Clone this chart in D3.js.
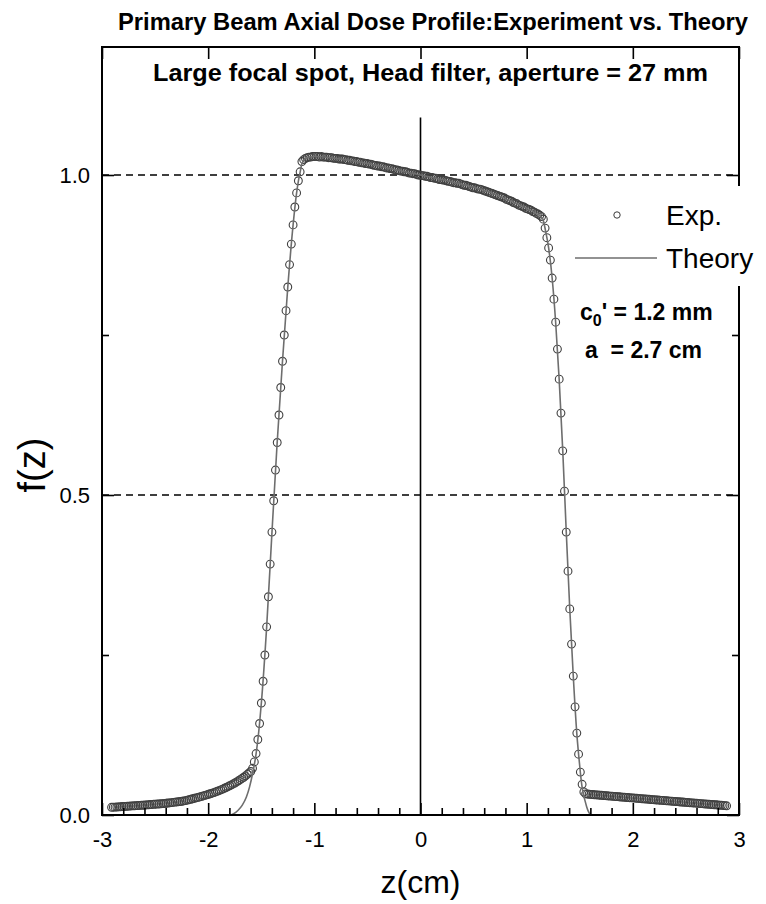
<!DOCTYPE html>
<html>
<head>
<meta charset="utf-8">
<script src="https://cdn.jsdelivr.net/npm/d3@7"></script>
<style>
  body { margin: 0; background: #fff; }
  text { font-family: "Liberation Sans", Arial, Helvetica, sans-serif; }
</style>
</head>
<body>
<svg id="chart" width="766" height="904"></svg>
<script>
// Measured axial dose profile, sampled on a uniform z grid (cm)
const zStart = -2.91;
const zStep = 0.0166;
const expF = [
  0.0120, 0.0122, 0.0123, 0.0125, 0.0127, 0.0129, 0.0132, 0.0133, 0.0135, 0.0137,
  0.0139, 0.0141, 0.0142, 0.0144, 0.0146, 0.0148, 0.0150, 0.0152, 0.0153, 0.0156,
  0.0158, 0.0160, 0.0163, 0.0165, 0.0167, 0.0169, 0.0171, 0.0173, 0.0175, 0.0178,
  0.0180, 0.0183, 0.0187, 0.0190, 0.0194, 0.0197, 0.0201, 0.0204, 0.0208, 0.0211,
  0.0215, 0.0220, 0.0225, 0.0232, 0.0239, 0.0246, 0.0254, 0.0261, 0.0268, 0.0275,
  0.0282, 0.0290, 0.0298, 0.0307, 0.0315, 0.0324, 0.0332, 0.0341, 0.0350, 0.0360,
  0.0370, 0.0381, 0.0393, 0.0405, 0.0417, 0.0430, 0.0443, 0.0457, 0.0471, 0.0485,
  0.0500, 0.0517, 0.0534, 0.0552, 0.0571, 0.0590, 0.0612, 0.0635, 0.0657, 0.0680,
  0.073, 0.083, 0.096, 0.118, 0.143, 0.175, 0.209, 0.250, 0.294, 0.341,
  0.392, 0.442, 0.491, 0.539, 0.582, 0.625, 0.668, 0.709, 0.750, 0.788,
  0.825, 0.860, 0.892, 0.922, 0.950, 0.972, 0.991, 1.005, 1.021,
  1.024, 1.026, 1.027, 1.028, 1.028, 1.029, 1.029,
  1.029, 1.029, 1.028, 1.029, 1.028, 1.028,
  1.028, 1.027, 1.027, 1.027, 1.026, 1.026,
  1.026, 1.025, 1.025, 1.025, 1.024, 1.024,
  1.023, 1.023, 1.022, 1.022, 1.021, 1.021,
  1.020, 1.020, 1.019, 1.019, 1.018, 1.018,
  1.017, 1.017, 1.016, 1.015, 1.015, 1.014,
  1.014, 1.013, 1.013, 1.012, 1.011, 1.011,
  1.010, 1.010, 1.009, 1.008, 1.008, 1.007,
  1.006, 1.006, 1.005, 1.005, 1.004, 1.003,
  1.003, 1.002, 1.002, 1.001, 1.000, 1.000,
  0.999, 0.999, 0.998, 0.998, 0.997, 0.996,
  0.996, 0.995, 0.995, 0.994, 0.993, 0.993,
  0.992, 0.992, 0.991, 0.990, 0.990, 0.989,
  0.988, 0.988, 0.987, 0.987, 0.986, 0.985,
  0.984, 0.984, 0.983, 0.982, 0.981, 0.980,
  0.980, 0.979, 0.978, 0.978, 0.977, 0.976,
  0.975, 0.974, 0.973, 0.972, 0.971, 0.970,
  0.969, 0.968, 0.967, 0.966, 0.965, 0.964,
  0.962, 0.961, 0.960, 0.959, 0.957, 0.956,
  0.955, 0.953, 0.952, 0.951, 0.950, 0.948,
  0.947, 0.946, 0.945, 0.943, 0.942, 0.940,
  0.939, 0.937, 0.935,
  0.931, 0.917, 0.902, 0.886, 0.867, 0.839, 0.806, 0.770, 0.728, 0.681,
  0.628, 0.569, 0.506, 0.442, 0.381, 0.322, 0.267, 0.217, 0.169, 0.128,
  0.095, 0.067, 0.048, 0.036,
  0.0330, 0.0327, 0.0324, 0.0322, 0.0320, 0.0316, 0.0315, 0.0312, 0.0309, 0.0308,
  0.0305, 0.0302, 0.0301, 0.0298, 0.0295, 0.0294, 0.0291, 0.0288, 0.0287, 0.0284,
  0.0281, 0.0280, 0.0277, 0.0274, 0.0273, 0.0270, 0.0267, 0.0266, 0.0263, 0.0261,
  0.0259, 0.0256, 0.0254, 0.0252, 0.0249, 0.0248, 0.0245, 0.0242, 0.0241, 0.0238,
  0.0235, 0.0234, 0.0231, 0.0229, 0.0227, 0.0224, 0.0222, 0.0220, 0.0217, 0.0216,
  0.0213, 0.0210, 0.0209, 0.0206, 0.0203, 0.0202, 0.0199, 0.0197, 0.0195, 0.0192,
  0.0190, 0.0188, 0.0185, 0.0184, 0.0181, 0.0178, 0.0177, 0.0174, 0.0172, 0.0170,
  0.0167, 0.0165, 0.0163, 0.0160, 0.0159, 0.0156, 0.0153, 0.0152, 0.0149, 0.0147,
  0.0144
];

// Theoretical primary-beam profile
const theoryZ = [-2.90, -1.80, -1.76, -1.72, -1.68, -1.64, -1.61, -1.58, -1.55, -1.516,
  -1.499, -1.449, -1.399, -1.350, -1.300, -1.250, -1.200, -1.167, -1.150, -1.133,
  -1.117, -1.09, -1.05, -1.0, -0.8, -0.5, -0.2, 0.0, 0.3, 0.6,
  0.8, 0.95, 1.05, 1.10, 1.14, 1.157, 1.174, 1.207, 1.240, 1.273,
  1.306, 1.340, 1.373, 1.406, 1.439, 1.472, 1.489, 1.506, 1.52, 1.535,
  1.55, 1.565, 1.58, 1.60, 1.62, 2.90];
const theoryF = [0, 0, 0.002, 0.007, 0.015, 0.028, 0.044, 0.066, 0.094, 0.143,
  0.175, 0.294, 0.442, 0.582, 0.709, 0.825, 0.922, 0.972, 0.991, 1.005,
  1.018, 1.025, 1.028, 1.029, 1.026, 1.018, 1.007, 1.000, 0.989, 0.976,
  0.963, 0.952, 0.944, 0.939, 0.934, 0.929, 0.916, 0.886, 0.839, 0.770,
  0.681, 0.569, 0.442, 0.322, 0.217, 0.128, 0.095, 0.066, 0.046, 0.032,
  0.022, 0.013, 0.006, 0.001, 0, 0];

const xTicks = [-3, -2, -1, 0, 1, 2, 3];
const yTicks = [0, 0.5, 1.0];
const yMinorTicks = [0.25, 0.75];
const refLevels = [0.5, 1.0];
const zeroLineTop = 1.09;
const legendItems = ["Exp.", "Theory"];

const svg = d3.select("#chart");
const plotLeft = 102, plotRight = 739, plotTop = 47, plotBottom = 815;
const x = d3.scaleLinear().domain([-3, 3]).range([plotLeft, plotRight]);
const y = d3.scaleLinear().domain([0, 1.2]).range([plotBottom, plotTop]);
const xMinorTicks = d3.range(-3, 3.001, 0.2).map(v => +v.toFixed(1)).filter(v => !xTicks.includes(v));

const expData = expF.map((f, i) => ({ z: zStart + i * zStep, f }));
const theoryData = theoryZ.map((z, i) => ({ z, f: theoryF[i] }));

// Title
svg.append("text").attr("x", 118).attr("y", 30)
  .attr("font-size", 24).attr("font-weight", "bold")
  .attr("textLength", 630).attr("lengthAdjust", "spacingAndGlyphs")
  .text("Primary Beam Axial Dose Profile:Experiment vs. Theory");

// Dashed reference levels
svg.append("g").selectAll("line").data(refLevels).join("line")
  .attr("x1", plotLeft).attr("x2", plotRight)
  .attr("y1", d => y(d)).attr("y2", d => y(d))
  .attr("stroke", "#000").attr("stroke-width", 1.5).attr("stroke-dasharray", "7,5");

// Vertical line at z = 0
svg.append("line")
  .attr("x1", x(0)).attr("x2", x(0)).attr("y1", y(zeroLineTop)).attr("y2", y(0))
  .attr("stroke", "#000").attr("stroke-width", 1.6);

// Experimental points
svg.append("g").selectAll("circle").data(expData).join("circle")
  .attr("cx", d => x(d.z)).attr("cy", d => y(d.f)).attr("r", 3.9)
  .attr("fill", "none").attr("stroke", "#404040").attr("stroke-width", 1.1);

// Theory curve
svg.append("path").datum(theoryData)
  .attr("fill", "none").attr("stroke", "#6e6e6e").attr("stroke-width", 1.6)
  .attr("d", d3.line().x(d => x(d.z)).y(d => y(d.f)).curve(d3.curveMonotoneX));

// Axes with inward ticks
const tickStyle = g => {
  g.select(".domain").remove();
  g.selectAll(".tick line").attr("stroke", "#000").attr("stroke-width", 1.6);
  g.selectAll(".tick text").attr("fill", "#000")
    .attr("font-family", "'Liberation Sans', Arial, sans-serif").attr("font-size", 22);
};
svg.append("g").attr("transform", `translate(0,${plotBottom})`)
  .call(d3.axisBottom(x).tickValues(xTicks).tickSize(-12).tickPadding(16).tickFormat(d => String(d)))
  .call(tickStyle);
svg.append("g").attr("transform", `translate(0,${plotBottom})`)
  .call(d3.axisBottom(x).tickValues(xMinorTicks).tickSize(-7).tickFormat(""))
  .call(tickStyle);
svg.append("g").attr("transform", `translate(0,${plotTop})`)
  .call(d3.axisTop(x).tickValues(xTicks).tickSize(-12).tickFormat(""))
  .call(tickStyle);
svg.append("g").attr("transform", `translate(${plotLeft},0)`)
  .call(d3.axisLeft(y).tickValues(yTicks).tickSize(-12).tickPadding(12).tickFormat(d3.format(".1f")))
  .call(tickStyle);
svg.append("g").attr("transform", `translate(${plotLeft},0)`)
  .call(d3.axisLeft(y).tickValues(yMinorTicks).tickSize(-7).tickFormat(""))
  .call(tickStyle);
svg.append("g").attr("transform", `translate(${plotRight},0)`)
  .call(d3.axisRight(y).tickValues(yTicks).tickSize(-12).tickFormat(""))
  .call(tickStyle);
svg.append("g").attr("transform", `translate(${plotRight},0)`)
  .call(d3.axisRight(y).tickValues(yMinorTicks).tickSize(-7).tickFormat(""))
  .call(tickStyle);

// Frame
svg.append("rect").attr("x", plotLeft).attr("y", plotTop)
  .attr("width", plotRight - plotLeft).attr("height", plotBottom - plotTop)
  .attr("fill", "none").attr("stroke", "#000").attr("stroke-width", 2);

// Run conditions
svg.append("text").attr("x", 153).attr("y", 81)
  .attr("font-size", 24).attr("font-weight", "bold")
  .attr("textLength", 555).attr("lengthAdjust", "spacingAndGlyphs")
  .text("Large focal spot, Head filter, aperture = 27 mm");

// Legend
const lg = svg.append("g");
lg.append("rect").attr("x", 570).attr("y", 186).attr("width", 196).attr("height", 100).attr("fill", "#fff");
lg.append("circle").attr("cx", 617).attr("cy", 215).attr("r", 3.2)
  .attr("fill", "none").attr("stroke", "#3c3c3c").attr("stroke-width", 1);
lg.append("line").attr("x1", 575).attr("x2", 657).attr("y1", 258).attr("y2", 258)
  .attr("stroke", "#6e6e6e").attr("stroke-width", 1.6);
lg.selectAll("text").data(legendItems).join("text")
  .attr("x", 666).attr("y", (d, i) => 225 + i * 43)
  .attr("font-size", 28).text(d => d);

// Fit parameters
const p1 = svg.append("text").attr("x", 580).attr("y", 320).attr("font-size", 23).attr("font-weight", "bold");
p1.append("tspan").text("c");
p1.append("tspan").attr("font-size", 16).attr("dy", 6).text("0");
p1.append("tspan").attr("dy", -6).text("' = 1.2 mm");
svg.append("text").attr("x", 585).attr("y", 358).attr("font-size", 23).attr("font-weight", "bold")
  .attr("xml:space", "preserve").text("a  = 2.7 cm");

// Axis titles
svg.append("text").attr("transform", "translate(45,465) rotate(-90)")
  .attr("text-anchor", "middle").attr("font-size", 38).text("f(z)");
svg.append("text").attr("x", x(0)).attr("y", 893)
  .attr("text-anchor", "middle").attr("font-size", 32).text("z(cm)");
</script>
</body>
</html>
